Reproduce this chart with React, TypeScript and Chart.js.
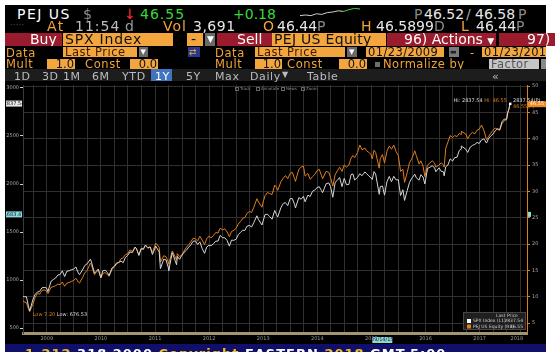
import React, { useEffect, useRef } from 'react';
import { Chart, registerables } from 'chart.js';
Chart.register(...registerables);

// ---------------- DATA ----------------
const dates = [
  '2009-01-23','2009-01-31','2009-02-15','2009-02-28','2009-03-09','2009-03-31','2009-04-15','2009-04-30','2009-05-15','2009-05-31','2009-06-15','2009-06-30','2009-07-10','2009-07-31','2009-08-15','2009-08-31','2009-09-15','2009-09-30','2009-10-15','2009-10-31','2009-11-15','2009-11-30','2009-12-15','2009-12-31',
  '2010-01-15','2010-01-31','2010-02-08','2010-02-28','2010-03-15','2010-03-31','2010-04-23','2010-04-30','2010-05-20','2010-05-31','2010-06-15','2010-07-02','2010-07-15','2010-07-31','2010-08-15','2010-08-27','2010-09-15','2010-09-30','2010-10-15','2010-10-31','2010-11-15','2010-11-30','2010-12-15','2010-12-31',
  '2011-01-15','2011-01-31','2011-02-18','2011-02-28','2011-03-16','2011-03-31','2011-04-15','2011-04-29','2011-05-15','2011-05-31','2011-06-15','2011-06-30','2011-07-07','2011-07-31','2011-08-08','2011-08-31','2011-09-15','2011-09-30','2011-10-03','2011-10-27','2011-11-25','2011-11-30','2011-12-15','2011-12-31',
  '2012-01-15','2012-01-31','2012-02-15','2012-02-29','2012-03-15','2012-03-31','2012-04-15','2012-04-30','2012-05-15','2012-06-01','2012-06-15','2012-06-30','2012-07-15','2012-07-31','2012-08-15','2012-08-31','2012-09-14','2012-09-30','2012-10-15','2012-10-31','2012-11-15','2012-11-30','2012-12-15','2012-12-31',
  '2013-01-15','2013-01-31','2013-02-15','2013-02-28','2013-03-15','2013-03-31','2013-04-15','2013-04-30','2013-05-21','2013-05-31','2013-06-24','2013-06-30','2013-07-15','2013-07-31','2013-08-15','2013-08-31','2013-09-18','2013-09-30','2013-10-08','2013-10-31','2013-11-15','2013-11-30','2013-12-15','2013-12-31',
  '2014-01-15','2014-01-31','2014-02-05','2014-02-28','2014-03-15','2014-03-31','2014-04-11','2014-04-30','2014-05-15','2014-05-31','2014-06-15','2014-06-30','2014-07-15','2014-07-31','2014-08-07','2014-08-31','2014-09-18','2014-09-30','2014-10-15','2014-10-31','2014-11-15','2014-11-30','2014-12-16','2014-12-31',
  '2015-01-15','2015-01-31','2015-02-15','2015-02-28','2015-03-11','2015-03-31','2015-04-15','2015-04-30','2015-05-20','2015-05-31','2015-06-15','2015-06-30','2015-07-08','2015-07-20','2015-07-31','2015-08-24','2015-08-31','2015-09-15','2015-09-29','2015-10-15','2015-10-31','2015-11-15','2015-11-30','2015-12-15','2015-12-31',
  '2016-01-15','2016-01-31','2016-02-11','2016-02-29','2016-03-15','2016-03-31','2016-04-20','2016-04-30','2016-05-19','2016-05-31','2016-06-15','2016-06-27','2016-07-15','2016-07-31','2016-08-15','2016-08-31','2016-09-09','2016-09-30','2016-10-15','2016-10-31','2016-11-04','2016-11-15','2016-11-30','2016-12-15','2016-12-31',
  '2017-01-15','2017-01-31','2017-02-15','2017-02-28','2017-03-01','2017-03-31','2017-04-13','2017-04-30','2017-05-15','2017-05-31','2017-06-15','2017-06-30','2017-07-15','2017-07-31','2017-08-18','2017-08-31','2017-09-15','2017-09-30','2017-10-15','2017-10-31','2017-11-15','2017-11-30','2017-12-15','2017-12-31',
  '2018-01-08','2018-01-16','2018-01-23',
];

const spx = [
  832,826,827,735,676.53,798,852,873,882,919,923,919,879,987,1005,1021,1052,1057,1096,1036,1093,1096,1107,1115,
  1136,1074,1056,1104,1150,1169,1217,1187,1071,1089,1115,1022,1096,1102,1079,1047,1125,1141,1176,1183,1197,1181,1236,1258,
  1293,1286,1343,1327,1256,1326,1320,1364,1338,1345,1266,1321,1354,1292,1119,1219,1209,1131,1099,1285,1159,1247,1216,1258,
  1289,1312,1343,1366,1403,1408,1370,1398,1330,1278,1343,1362,1357,1379,1405,1406,1465,1441,1440,1412,1353,1416,1413,1426,
  1472,1498,1520,1515,1560,1569,1553,1598,1669,1631,1573,1606,1682,1686,1661,1633,1725,1682,1656,1757,1798,1806,1775,1848,
  1848,1783,1751,1859,1841,1872,1815,1884,1870,1924,1937,1960,1973,1931,1910,2003,2011,1972,1862,2018,2039,2068,1973,2059,
  1993,1995,2097,2105,2041,2068,2107,2086,2126,2107,2084,2063,2047,2129,2104,1893,1972,1979,1884,2023,2079,2023,2080,2043,2044,
  1880,1940,1829,1932,2015,2060,2102,2065,2040,2097,2072,2001,2162,2174,2190,2171,2128,2168,2133,2126,2085,2180,2199,2262,2239,
  2275,2279,2349,2364,2396,2363,2329,2384,2402,2412,2432,2423,2459,2470,2426,2472,2500,2519,2553,2575,2565,2648,2676,2674,
  2748,2777,2837.54,
];

const pej = [
  9.3,9.0,8.9,7.8,7.2,8.6,9.9,10.6,10.5,11.2,11.3,11.1,10.6,11.8,11.9,12.1,12.4,12.3,12.8,12.0,12.6,12.7,12.9,13.1,
  13.5,12.8,12.6,13.6,14.5,15.0,16.4,16.0,14.2,14.6,15.1,13.6,14.4,14.6,14.2,13.9,15.2,15.6,16.2,16.5,17.2,17.4,18.0,18.2,
  18.9,18.6,19.4,19.0,18.0,19.2,19.1,19.8,19.2,19.4,18.4,19.6,20.2,19.4,16.6,17.8,17.6,16.6,16.2,18.7,17.0,18.2,17.6,18.0,
  18.7,19.4,19.9,20.4,21.1,21.0,20.6,21.5,20.8,19.9,21.0,21.5,21.2,21.6,22.2,22.1,23.0,22.7,22.9,22.3,21.4,22.4,22.6,23.0,
  23.8,24.3,24.9,25.0,25.8,26.2,26.0,27.0,28.6,28.0,27.0,27.8,29.2,29.8,29.6,29.4,31.2,30.8,30.2,31.9,32.5,33.0,32.4,33.4,
  33.6,32.4,31.9,34.2,34.6,34.8,32.9,33.4,32.3,32.8,33.2,33.9,34.2,33.0,32.4,33.8,33.6,32.6,31.0,33.2,33.9,34.6,33.8,35.0,
  34.6,35.0,36.3,36.8,36.4,37.4,38.8,37.9,38.2,37.7,37.4,37.0,36.2,37.8,37.4,34.4,36.2,37.0,35.4,37.6,38.6,38.0,38.8,37.6,36.8,
  33.8,34.2,31.7,33.6,35.4,36.2,37.7,36.8,35.2,35.8,34.8,32.8,35.0,35.4,35.8,35.4,34.6,35.0,35.4,35.0,34.6,38.2,39.4,40.6,40.2,
  40.6,40.4,41.0,40.8,41.4,40.9,40.0,40.8,41.2,40.9,41.6,41.8,42.6,41.6,39.8,40.4,41.0,41.6,42.0,41.8,41.6,42.8,43.4,43.6,
  44.8,45.6,46.55,
];

const years = [2009, 2010, 2011, 2012, 2013, 2014, 2015, 2016, 2017, 2018];
const leftTicks = [500, 1000, 1500, 2000, 2500, 3000];
const rightTicks = [5, 10, 15, 20, 25, 30, 35, 40, 45, 50];
const axisEndDate = '2018-05-18';
const crossSPX = 1683.47;
const crossDateLabel = '09/14/15';
const crossDate = '2015-09-14';
const intraday = [46.44, 46.45, 46.44, 46.47, 46.46, 46.49, 46.5, 46.52, 46.51, 46.54, 46.56, 46.55];

// ---------------- STYLE ----------------
const FONT = '"DejaVu Sans", sans-serif';
const AMBER = '#f2a33a';
const BOXC = '#f3a53e';
const LINE_ORANGE = '#e07e1c';
const LINE_WHITE = '#d6d6d6';
const RED = '#9a1b2d';
const GREEN = '#38d838';

function toYear(d: string): number {
  const [y, m, dd] = d.split('-').map(Number);
  return y + (Date.UTC(y, m - 1, dd) - Date.UTC(y, 0, 1)) / (365 * 86400000);
}

const T = ({ x, y, s = 14, c = '#fff', ls = 0, children }: any) => (
  <div style={{ position: 'absolute', left: x, top: y, fontSize: s, lineHeight: 1, color: c, letterSpacing: ls, whiteSpace: 'nowrap', fontFamily: FONT }}>{children}</div>
);
const B = ({ x, y, w, h, bg, children, c = '#151515', s = 11.5, pad = 2, align = 'left', ls = 0 }: any) => (
  <div style={{ position: 'absolute', left: x, top: y, width: w, height: h, background: bg, color: c, fontSize: s, lineHeight: h + 'px', paddingLeft: pad, paddingRight: pad, boxSizing: 'border-box', textAlign: align, overflow: 'hidden', whiteSpace: 'nowrap', fontFamily: FONT, letterSpacing: ls }}>{children}</div>
);

function Spark() {
  const ref = useRef<HTMLCanvasElement>(null);
  useEffect(() => {
    const ch = new Chart(ref.current!, {
      type: 'line',
      data: {
        labels: intraday.map((_, i) => i),
        datasets: [{
          data: intraday, borderWidth: 1, pointRadius: 0, borderColor: '#cfcfcf',
          segment: { borderColor: (c: any) => (c.p1DataIndex > 8 ? GREEN : '#cfcfcf') },
        }],
      },
      options: {
        responsive: false, animation: false, devicePixelRatio: 1,
        layout: { padding: 1 },
        plugins: { legend: { display: false }, tooltip: { enabled: false } },
        scales: { x: { display: false }, y: { display: false } },
      },
    });
    return () => ch.destroy();
  }, []);
  return <canvas ref={ref} width={62} height={14} style={{ position: 'absolute', left: 299, top: 5 }} />;
}

function MainChart() {
  const ref = useRef<HTMLCanvasElement>(null);
  useEffect(() => {
    const xMin = toYear(dates[0]);
    const xMax = toYear(axisEndDate);
    const label2018 = (toYear('2018-01-01') + xMax) / 2;
    const lastSpx = spx[spx.length - 1];
    const lastPej = pej[pej.length - 1];
    const lowSpx = Math.min(...spx);
    const lowPej = Math.min(...pej);
    const iLow = spx.indexOf(lowSpx);

    const overlay = {
      id: 'overlay',
      afterDraw(chart: any) {
        const { ctx, chartArea: a, scales } = chart;
        const xs = scales.x, yl = scales.yL, yr = scales.yR;
        ctx.save();
        ctx.font = '5px ' + FONT;
        ctx.textBaseline = 'middle';
        // low labels
        const lx = xs.getPixelForValue(toYear(dates[iLow]));
        const ly = yl.getPixelForValue(lowSpx);
        ctx.textAlign = 'left';
        const t1 = 'Low ' + lowPej.toFixed(2) + ' ';
        ctx.fillStyle = LINE_ORANGE;
        ctx.fillText(t1, lx + 3, ly + 4);
        ctx.fillStyle = '#dddddd';
        ctx.fillText('Low: ' + lowSpx.toFixed(2), lx + 3 + ctx.measureText(t1).width, ly + 4);
        // hi labels at the end
        const ex = xs.getPixelForValue(toYear(dates[dates.length - 1]));
        const ey = yl.getPixelForValue(lastSpx);
        const h2 = 'Hi: ' + lastPej.toFixed(2);
        const h1 = 'Hi: ' + lastSpx.toFixed(2) + ' ';
        const w2 = ctx.measureText(h2).width;
        const w1 = ctx.measureText(h1).width;
        ctx.fillStyle = LINE_ORANGE;
        ctx.fillText(h2, ex - 3 - w2, ey - 3);
        ctx.fillStyle = '#dddddd';
        ctx.fillText(h1, ex - 3 - w2 - w1, ey - 3);
        ctx.fillText(lastSpx.toFixed(2) + '(P)', ex + 3, ey - 3);
        ctx.fillStyle = LINE_ORANGE;
        ctx.fillText(lastPej.toFixed(2) + '(P)', ex + 3, yr.getPixelForValue(lastPej) + 3);
        ctx.fillStyle = '#ffffff';
        ctx.fillRect(ex - 1, ey - 1, 2.5, 2.5);
        // axis value boxes
        ctx.textAlign = 'center';
        const yb = yl.getPixelForValue(lastSpx);
        ctx.fillStyle = '#e8e8e8';
        ctx.fillRect(1, yb - 3, 16, 6);
        ctx.fillStyle = '#111';
        ctx.fillText(lastSpx.toFixed(2), 9, yb);
        const yc = yl.getPixelForValue(crossSPX);
        ctx.fillStyle = '#8fd8d8';
        ctx.fillRect(1, yc - 3, 16, 6);
        ctx.fillStyle = '#123';
        ctx.fillText(crossSPX.toFixed(2), 9, yc);
        ctx.fillStyle = '#8fd8d8';
        ctx.fillRect(a.right + 1, yc - 2.5, 3, 5);
        const yo = yr.getPixelForValue(lastPej);
        ctx.fillStyle = '#f08a1e';
        ctx.fillRect(a.right + 1, yo - 3, chart.width - a.right - 1, 6);
        ctx.fillStyle = '#fff';
        ctx.fillText(lastPej.toFixed(2), a.right + 10, yo);
        const xc = xs.getPixelForValue(toYear(crossDate));
        ctx.fillStyle = '#8fd8d8';
        ctx.fillRect(xc - 10, a.bottom + 4, 20, 6);
        ctx.fillStyle = '#123';
        ctx.fillText(crossDateLabel, xc, a.bottom + 7);
        // legend
        const lw = 63, lh = 18;
        const lxx = a.right - lw - 1, lyy = a.bottom - lh - 3;
        ctx.fillStyle = '#1f1f1f';
        ctx.fillRect(lxx, lyy, lw, lh);
        ctx.strokeStyle = '#454545';
        ctx.lineWidth = 1;
        ctx.strokeRect(lxx + 0.5, lyy + 0.5, lw - 1, lh - 1);
        ctx.fillStyle = '#c8c8c8';
        ctx.font = '4.5px ' + FONT;
        ctx.fillText('Last Price', lxx + 44, lyy + 3.5);
        const rows = [
          { name: 'SPX Index (L1)', val: lastSpx.toFixed(2), col: '#ffffff' },
          { name: 'PEJ US Equity (R1)', val: lastPej.toFixed(2), col: LINE_ORANGE },
        ];
        rows.forEach((r, i) => {
          const ry = lyy + 9 + i * 5.5;
          ctx.fillStyle = r.col;
          ctx.fillRect(lxx + 4, ry - 2, 4, 4);
          ctx.fillStyle = '#d0d0d0';
          ctx.textAlign = 'left';
          ctx.fillText(r.name, lxx + 10, ry);
          ctx.textAlign = 'right';
          ctx.fillText(r.val, lxx + lw - 3, ry);
        });
        // top toolbar
        const cx = (a.left + a.right) / 2;
        const items = [['Track', -40], ['Annotate', -19], ['News', 6], ['Zoom', 26]] as [string, number][];
        ctx.textAlign = 'left';
        ctx.font = '4px ' + FONT;
        items.forEach(([t, off]) => {
          ctx.strokeStyle = '#666';
          ctx.strokeRect(cx + off + 0.5, a.top + 2.5, 3, 3);
          ctx.fillStyle = '#8a8a8a';
          ctx.fillText(t, cx + off + 5, a.top + 4);
        });
        ctx.restore();
      },
    };

    const chart = new Chart(ref.current!, {
      type: 'line',
      data: {
        datasets: [
          { label: 'SPX Index (L1)', data: dates.map((d, i) => ({ x: toYear(d), y: spx[i] })), yAxisID: 'yL', borderColor: LINE_WHITE, borderWidth: 1, pointRadius: 0, tension: 0 },
          { label: 'PEJ US Equity (R1)', data: dates.map((d, i) => ({ x: toYear(d), y: pej[i] })), yAxisID: 'yR', borderColor: LINE_ORANGE, borderWidth: 1, pointRadius: 0, tension: 0 },
        ],
      },
      options: {
        responsive: false, animation: false, devicePixelRatio: 1,
        layout: { padding: { top: 2, left: 0, right: 0, bottom: 0 } },
        plugins: { legend: { display: false }, tooltip: { enabled: false } },
        scales: {
          x: {
            type: 'linear', min: xMin, max: xMax,
            afterFit: (s: any) => { s.height = 11; },
            afterBuildTicks: (s: any) => {
              const t: any[] = [];
              years.forEach((y) => [0, 0.25, 0.5, 0.75].forEach((q) => {
                const v = y + q;
                if (v > xMin + 1e-6 && v < xMax) t.push({ value: v });
              }));
              t.push({ value: label2018 });
              s.ticks = t;
            },
            ticks: {
              autoSkip: false, maxRotation: 0, padding: 3, color: '#9a9a9a', font: { size: 5, family: FONT },
              callback: (v: any) => {
                if (Math.abs(v - label2018) < 1e-6) return '2018';
                const f = v - Math.floor(v);
                return Math.abs(f - 0.5) < 1e-6 ? String(Math.floor(v)) : '';
              },
            },
            grid: {
              color: (c: any) => (c.tick && Math.abs(c.tick.value - label2018) < 1e-6 ? 'rgba(0,0,0,0)' : '#303030'),
              drawTicks: false,
            },
            border: { color: '#a2966f', width: 3 },
          },
          yL: {
            position: 'left', min: 448.6, max: 3030.9,
            afterFit: (s: any) => { s.width = 18; },
            afterBuildTicks: (s: any) => { s.ticks = leftTicks.map((v) => ({ value: v })); },
            ticks: { color: '#a8a8a8', font: { size: 5, family: FONT }, padding: 1, callback: (v: any) => String(v) },
            grid: { drawOnChartArea: false, tickLength: 3, tickColor: '#d0d0d0', color: '#d0d0d0' },
            border: { color: '#3a3a3a' },
          },
          yR: {
            position: 'right', min: 3.125, max: 50.19,
            afterFit: (s: any) => { s.width = 19; },
            afterBuildTicks: (s: any) => { s.ticks = rightTicks.map((v) => ({ value: v })); },
            ticks: { color: '#a8a8a8', font: { size: 5, family: FONT }, padding: 2, callback: (v: any) => String(v) },
            grid: { color: '#303030', tickColor: LINE_ORANGE, tickLength: 3 },
            border: { color: LINE_ORANGE, width: 1 },
          },
        },
      },
      plugins: [overlay],
    } as any);
    return () => chart.destroy();
  }, []);
  return <canvas ref={ref} width={541} height={264} style={{ position: 'absolute', left: 5, top: 80 }} />;
}

export default function App() {
  return (
    <div style={{ position: 'fixed', left: 0, top: 0, width: 558, height: 360, background: '#fff', overflow: 'hidden', fontFamily: FONT }}>
      <div style={{ position: 'absolute', left: 5, top: 5, width: 541, height: 339, background: '#000' }} />
      {/* row 1 */}
      <T x={17} y={6.5} ls={1.5}>PEJ US</T>
      <T x={83} y={6.5} c="#8a8a8a">$</T>
      <T x={124} y={6.5} c="#ff2a2a">↓</T>
      <T x={140} y={6.5} c={GREEN} ls={1}>46.55</T>
      <T x={233} y={6.5} c={GREEN} ls={0}>+0.18</T>
      <Spark />
      <T x={414} y={6.5} c="#8a8a8a">P</T>
      <T x={424} y={6.5} c="#e8e8e8">46.52</T>
      <T x={466} y={6.5} c="#aaaaaa">/</T>
      <T x={475} y={6.5} c="#e8e8e8">46.58</T>
      <T x={518} y={6.5} c="#8a8a8a">P</T>
      {/* row 2 */}
      <T x={10} y={21} s={9} c="#4a4a4a">·····</T>
      <T x={47} y={19} c={AMBER} ls={1.5}>At</T>
      <T x={75} y={19} c="#bdbdbd" ls={1}>11:54</T>
      <T x={125} y={19} c="#9a9a9a">d</T>
      <T x={163} y={19} c={AMBER} ls={1}>Vol</T>
      <T x={193} y={19} c="#e8e8e8" ls={0.5}>3,691</T>
      <T x={263} y={19} c={AMBER}>O</T>
      <T x={277} y={19} c="#e8e8e8">46.44<span style={{ color: '#8a8a8a' }}>P</span></T>
      <T x={361} y={19} c={AMBER}>H</T>
      <T x={376} y={19} c="#e8e8e8">46.5899<span style={{ color: '#8a8a8a' }}>D</span></T>
      <T x={461} y={19} c={AMBER}>L</T>
      <T x={476} y={19} c="#e8e8e8">46.44<span style={{ color: '#8a8a8a' }}>P</span></T>
      {/* row 3 */}
      <B x={5} y={33} w={57} h={13} bg={RED} c="#fff" s={14} pad={25}>Buy</B>
      <B x={63} y={33} w={110} h={13} bg={BOXC} c="#111" s={14} ls={0.8}>SPX Index</B>
      <B x={187} y={33} w={16} h={13} bg={BOXC} c="#111" s={14} pad={4}>-</B>
      <B x={205} y={33} w={10} h={13} bg="#6a6a6a" c="#fff" s={9} pad={2}>▼</B>
      <B x={217} y={33} w={55} h={13} bg={RED} c="#fff" s={14} pad={20}>Sell</B>
      <B x={272} y={33} w={114} h={13} bg={BOXC} c="#111" s={14} ls={0.3}>PEJ US Equity</B>
      <B x={387} y={33} w={109} h={13} bg={RED} c="#fff" s={14} pad={17}>96) Actions <span style={{ fontSize: 9 }}>▼</span></B>
      <B x={499} y={33} w={47} h={13} bg={RED} c="#fff" s={14} pad={28}>97)</B>
      {/* row 4 */}
      <T x={6} y={47.6} s={11.5} c={AMBER} ls={0.6}>Data</T>
      <B x={63} y={47} w={74} h={10} bg={BOXC} c="#3a1a00" s={11.5} ls={0.5}>Last Price</B>
      <B x={139} y={47} w={9} h={10} bg="#6a6a6a" c="#fff" s={7} pad={1.5}>▼</B>
      <B x={188} y={47} w={12} h={10} bg="#243a90" c={AMBER} s={9} pad={1}>⇄</B>
      <T x={215} y={47.6} s={11.5} c={AMBER} ls={0.6}>Data</T>
      <B x={255} y={47} w={90} h={10} bg={BOXC} c="#3a1a00" s={11.5} ls={0.5}>Last Price</B>
      <B x={347} y={47} w={10} h={10} bg="#6a6a6a" c="#fff" s={7} pad={2}>▼</B>
      <B x={366} y={47} w={78} h={10} bg={BOXC} c="#111" s={11.5} ls={0.4}>01/23/2009</B>
      <B x={449} y={47} w={10} h={10} bg="#7a7a7a" c="#222" s={7} pad={1}>▬</B>
      <T x={470} y={47.6} s={11.5} c={AMBER}>-</T>
      <B x={482} y={47} w={64} h={10} bg={BOXC} c="#111" s={11.5} ls={0.4}>01/23/2018</B>
      {/* row 5 */}
      <T x={6} y={58.6} s={11.5} c={AMBER} ls={0.6}>Mult</T>
      <B x={47} y={59} w={28} h={10} bg={BOXC} c="#111" s={11.5} align="right" pad={1}>1.0</B>
      <T x={85} y={58.6} s={11.5} c={AMBER} ls={0.6}>Const</T>
      <B x={130} y={59} w={28} h={10} bg={BOXC} c="#111" s={11.5} align="right" pad={1}>0.0</B>
      <T x={215} y={58.6} s={11.5} c={AMBER} ls={0.6}>Mult</T>
      <B x={255} y={59} w={27} h={10} bg={BOXC} c="#111" s={11.5} align="right" pad={1}>1.0</B>
      <T x={287} y={58.6} s={11.5} c={AMBER} ls={0.6}>Const</T>
      <B x={339} y={59} w={28} h={10} bg={BOXC} c="#111" s={11.5} align="right" pad={1}>0.0</B>
      <div style={{ position: 'absolute', left: 375, top: 61.5, width: 5, height: 5, background: '#6d6d6d' }} />
      <T x={383} y={58.6} s={11.5} c={AMBER} ls={0.5}>Normalize by</T>
      <B x={489} y={59} w={50} h={10} bg="#c6c6c6" c="#555" s={11.5} ls={0.4}>Factor</B>
      <B x={541} y={59} w={5} h={10} bg="#8a8a8a" />
      {/* row 6 */}
      <div style={{ position: 'absolute', left: 5, top: 69, width: 541, height: 12, background: '#1d1d1d' }} />
      <B x={151} y={69} w={21} h={12} bg="#3f74bf" />
      {([['1D', 14], ['3D', 42], ['1M', 63], ['6M', 92], ['YTD', 122], ['1Y', 155], ['5Y', 186], ['Max', 215], ['Daily', 250], ['▼', 282], ['Table', 307], ['«', 492]] as [string, number][]).map(([t, x]) => (
        <T key={t} x={x} y={70.5} s={t === '▼' ? 8 : 11} c={t === '1Y' ? '#fff' : '#bcbcbc'} ls={0.6}>{t}</T>
      ))}
      <MainChart />
      {/* bottom status strip */}
      <div style={{ position: 'absolute', left: 5, top: 344, width: 541, height: 8, background: '#10106a', overflow: 'hidden' }}>
        <div style={{ position: 'absolute', left: 20, top: 2, fontSize: 13, fontWeight: 'bold', color: '#f0c020', whiteSpace: 'nowrap', fontFamily: FONT, letterSpacing: 1 }}>
          1-212  <span style={{ color: '#fff' }}>318 2000</span>   Copyright  <span style={{ color: '#fff' }}>EASTERN</span>  2018  <span style={{ color: '#fff' }}>GMT-5:00</span>
        </div>
      </div>
    </div>
  );
}
